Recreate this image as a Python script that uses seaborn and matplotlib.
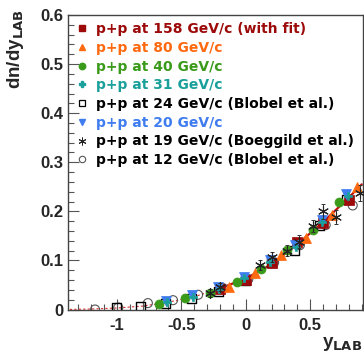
import numpy as np
import pandas as pd
import matplotlib
matplotlib.use("Agg")
import matplotlib.pyplot as plt
import seaborn as sns
from matplotlib.lines import Line2D
from matplotlib.ticker import MultipleLocator, FuncFormatter

sns.set_style("ticks")
plt.rcParams['font.family'] = ['Liberation Sans', 'DejaVu Sans']
plt.rcParams['font.weight'] = 'bold'

# ---------------- data ----------------
labels = ["p+p at 158 GeV/c (with fit)", "p+p at 80 GeV/c", "p+p at 40 GeV/c",
          "p+p at 31 GeV/c", "p+p at 24 GeV/c (Blobel et al.)", "p+p at 20 GeV/c",
          "p+p at 19 GeV/c (Boeggild et al.)", "p+p at 12 GeV/c (Blobel et al.)"]

x158 = [-0.2, 0.0, 0.2, 0.4, 0.6, 0.8]
y158 = [0.042, 0.060, 0.094, 0.137, 0.176, 0.223]

x80 = [-0.13, 0.07, 0.27, 0.47, 0.67, 0.86]
y80 = [0.046, 0.074, 0.111, 0.146, 0.192, 0.250]

x40 = [-0.67, -0.47, -0.28, -0.07, 0.12, 0.32, 0.52, 0.72]
y40 = [0.011, 0.023, 0.033, 0.057, 0.082, 0.121, 0.162, 0.219]

x31 = [-0.61, -0.41, -0.21, -0.01, 0.19, 0.39, 0.59, 0.79]
y31 = [0.015, 0.026, 0.042, 0.064, 0.097, 0.128, 0.178, 0.232]

x24 = [-1.0, -0.82, -0.62, -0.42, -0.215, 0.0, 0.2, 0.38, 0.575, 0.78]
y24 = [0.004, 0.006, 0.012, 0.022, 0.036, 0.060, 0.095, 0.121, 0.172, 0.224]

x20 = [-0.62, -0.42, -0.215, -0.01, 0.19, 0.38, 0.59, 0.78]
y20 = [0.018, 0.029, 0.046, 0.067, 0.100, 0.131, 0.182, 0.236]

x19 = [-0.28, -0.2, 0.11, 0.2, 0.32, 0.41, 0.52, 0.6, 0.7, 0.89]
y19 = [0.034, 0.046, 0.090, 0.107, 0.120, 0.138, 0.170, 0.200, 0.188, 0.237]
e19 = [0.008, 0.009, 0.010, 0.011, 0.011, 0.013, 0.013, 0.015, 0.014, 0.016]

x12 = [-1.17, -0.99, -0.76, -0.565, -0.37, -0.18, 0.02, 0.22, 0.42, 0.62, 0.83]
y12 = [0.000, 0.004, 0.013, 0.019, 0.030, 0.044, 0.062, 0.096, 0.131, 0.172, 0.212]

fit_x = [-1.4, -1.2, -1.0, -0.8, -0.6, -0.4, -0.2, 0.0, 0.2, 0.4, 0.6, 0.8, 0.9]
fit_y = [0.000, 0.001, 0.003, 0.007, 0.015, 0.026, 0.043, 0.063, 0.092, 0.133, 0.178, 0.228, 0.255]
fit_split = -0.2

xticks = [-1, -0.5, 0, 0.5]
yticks = [0, 0.1, 0.2, 0.3, 0.4, 0.5, 0.6]

c158 = "#9c0a0a"
c80 = "#ff6a10"
c40 = "#3a9a1a"
c31 = "#1aa09a"
c20 = "#3f7cf0"

# ---------------- figure ----------------
fig = plt.figure(figsize=(3.64, 3.55), dpi=100)
ax = fig.add_axes([68/364, 1-309.5/355, (363-68)/364, (309.5-15)/355])

fit = pd.DataFrame({"x": fit_x, "y": fit_y})
sns.lineplot(data=fit[fit.x <= fit_split], x="x", y="y", ax=ax, color="#e03030",
             lw=0.8, ls=(0, (2, 2)), zorder=1)
sns.lineplot(data=fit[fit.x >= fit_split], x="x", y="y", ax=ax, color="#c01010",
             lw=1.6, zorder=1)

ms = 42
sns.scatterplot(x=x12, y=y12, ax=ax, marker="o", s=ms, facecolor="none",
                edgecolor="#555555", linewidth=0.8, zorder=2)
sns.scatterplot(x=x24, y=y24, ax=ax, marker="s", s=ms, facecolor="none",
                edgecolor="black", linewidth=1.0, zorder=3)
sns.scatterplot(x=x158, y=y158, ax=ax, marker="s", s=ms, color=c158,
                edgecolor=c158, zorder=3)
sns.scatterplot(x=x80, y=y80, ax=ax, marker="^", s=ms+8, color=c80,
                edgecolor=c80, zorder=3)
sns.scatterplot(x=x40, y=y40, ax=ax, marker="o", s=ms, color=c40,
                edgecolor=c40, zorder=3)
sns.scatterplot(x=x20, y=y20, ax=ax, marker="v", s=ms+8, color=c20,
                edgecolor=c20, zorder=3)
sns.scatterplot(x=x31, y=y31, ax=ax, marker="P", s=ms-10, color=c31,
                edgecolor=c31, zorder=4)
ax.errorbar(x19, y19, yerr=e19, fmt="none", ecolor="#333333", elinewidth=0.7,
            capsize=1.5, capthick=0.7, zorder=4)
sns.scatterplot(x=x19, y=y19, ax=ax, marker=(6, 2, 0), s=ms+10, color="#222222",
                linewidth=0.8, zorder=5)

ax.set_xlim(-1.38, 0.91)
ax.set_ylim(0, 0.6)
ax.set_xticks(xticks)
ax.set_yticks(yticks)
ax.xaxis.set_minor_locator(MultipleLocator(0.1))
ax.yaxis.set_minor_locator(MultipleLocator(0.02))
fmt = FuncFormatter(lambda v, p: "0" if abs(v) < 1e-9 else ("%g" % v))
ax.xaxis.set_major_formatter(fmt)
ax.yaxis.set_major_formatter(fmt)
ax.tick_params(which="both", direction="in", labelsize=12, width=0.8, color="#555555")
ax.tick_params(which="major", length=8)
ax.tick_params(which="minor", length=4)
ax.tick_params(axis="x", pad=6)
ax.tick_params(axis="y", pad=3)
for lab in ax.get_xticklabels() + ax.get_yticklabels():
    lab.set_fontweight("bold")
for sp in ax.spines.values():
    sp.set_visible(True)
    sp.set_linewidth(1.0)
    sp.set_color("#444444")
ax.set_xlabel("")
ax.set_ylabel("")

fig.text(16/364, 1-9/355, r"dn/dy$_{\mathbf{LAB}}$", rotation=90, ha="center", va="top",
         fontsize=13.5, fontweight="bold")
fig.text(362/364, 1-353/355, r"y$_{\mathbf{LAB}}$", ha="right", va="bottom",
         fontsize=13.5, fontweight="bold")

lms = 4.6
handles = [
    Line2D([], [], ls="none", marker="s", ms=lms, color=c158),
    Line2D([], [], ls="none", marker="^", ms=lms, color=c80),
    Line2D([], [], ls="none", marker="o", ms=lms, color=c40),
    Line2D([], [], ls="none", marker="P", ms=lms, color=c31),
    Line2D([], [], ls="none", marker="s", ms=lms, mfc="none", mec="black", mew=0.9),
    Line2D([], [], ls="none", marker="v", ms=lms, color=c20),
    Line2D([], [], ls="none", marker=(6, 2, 0), ms=lms+1, color="#222222", mew=0.7),
    Line2D([], [], ls="none", marker="o", ms=lms, mfc="none", mec="#555555", mew=0.8),
]
tcolors = [c158, c80, c40, c31, "black", c20, "black", "black"]
leg = ax.legend(handles, labels, loc="upper left", bbox_to_anchor=(72/364, 1-18/355),
                bbox_transform=fig.transFigure, frameon=False,
                handlelength=0.8, handletextpad=0.6, labelspacing=0.34,
                borderaxespad=0, borderpad=0.3,
                prop={"family": "DejaVu Sans", "weight": "bold", "size": 10})
for t, c in zip(leg.get_texts(), tcolors):
    t.set_color(c)

fig.savefig("out.png", dpi=100)
